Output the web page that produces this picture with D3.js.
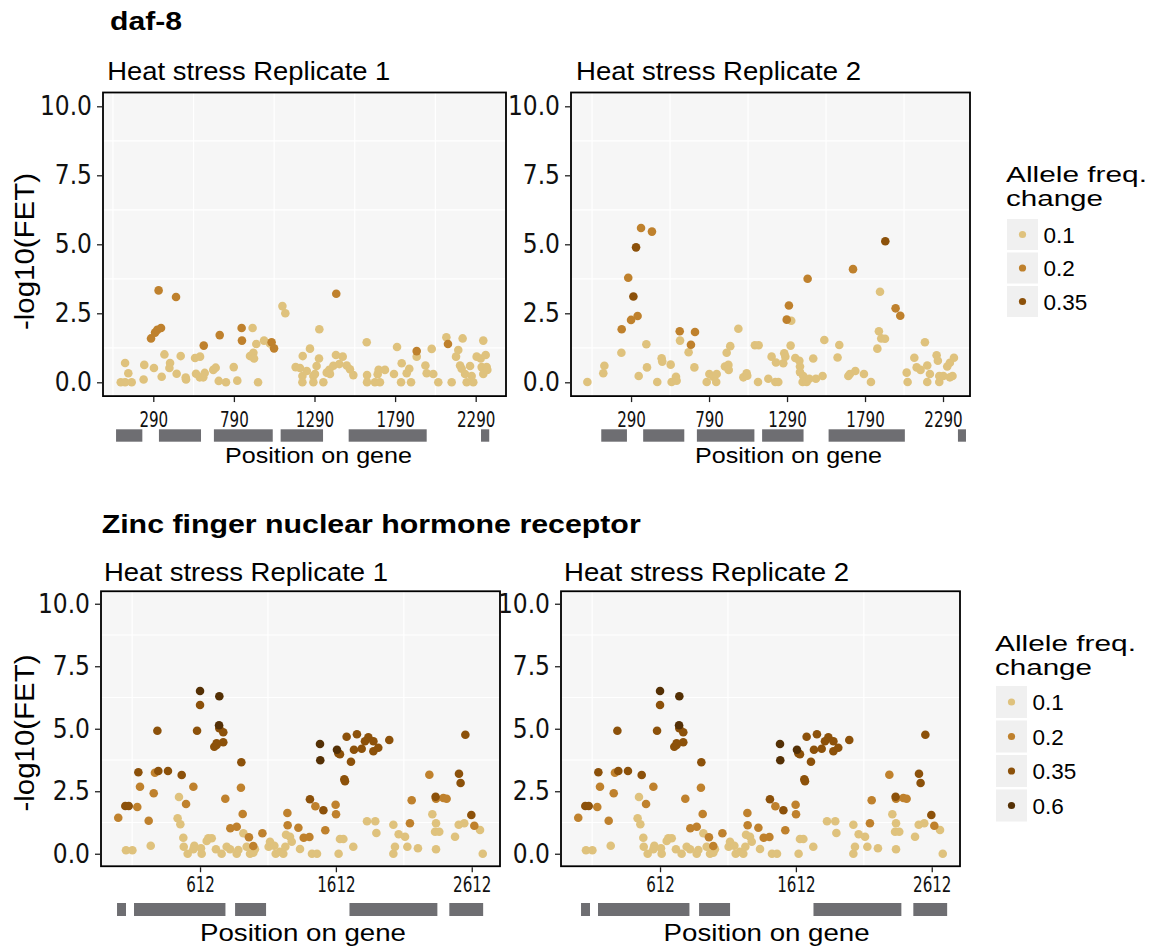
<!DOCTYPE html>
<html>
<head>
<meta charset="utf-8">
<script src="https://cdn.jsdelivr.net/npm/d3@7"></script>
<style>
body{margin:0;background:#fff;}
svg{display:block;font-family:"Liberation Sans",Arial,sans-serif;}
.narrow text,.narrow{font-family:"Liberation Sans Narrow","Arial Narrow","DejaVu Sans Condensed",sans-serif;}
</style>
</head>
<body>
<div class="chart"></div>
<script>
// allele frequency change classes and their colours (BrBG, brown side)
const afcLevels = ["0.1", "0.2", "0.35", "0.6"];
const afcColors = ["#dfc27d", "#bf812d", "#8c510a", "#543005"];

const yTicks = [0, 2.5, 5, 7.5, 10];
const daf8Ticks = [290, 790, 1290, 1790, 2290];
const zincTicks = [612, 1612, 2612];

// exon blocks drawn under each panel
const daf8Exons = [[59,222],[325,586],[666,1031],[1080,1343],[1502,1986],[2323,2374]];
const zincExons = [[1,67],[126,799],[870,1098],[1712,2359],[2447,2696]];

// [position, -log10(FET)]
const daf8Rep1Low = [[1091,2.76],[1109,2.50],[906,1.97],[929,1.39],[977,1.51],[1014,1.41],[1320,1.92],[1614,1.45],[1802,1.28],[2108,1.63],[2209,1.59],[2337,1.51],
  [115,0.70],[135,0.33],[88,0.00],[115,0.00],[156,0.00],[230,0.10],[234,0.63],[294,0.52],[342,0.20],[359,1.01],[394,0.70],[390,0.52],[435,0.31],[460,0.95],
  [491,0.17],[493,0.10],[549,0.88],[580,0.93],[555,0.31],[578,0.18],[600,0.18],[609,0.34],[662,0.45],[677,0.53],[696,0.05],[741,0.00],[789,0.55],[811,0.06],
  [890,0.95],[911,1.07],[915,0.86],[940,0.00],[1173,0.55],[1200,0.52],[1217,0.95],[1215,0.23],[1215,0.00],[1242,0.41],[1262,1.22],[1283,0.23],[1283,0.00],
  [1293,0.30],[1303,0.59],[1318,0.86],[1345,0.00],[1366,0.35],[1382,0.45],[1386,0.30],[1407,0.60],[1423,0.99],[1444,0.66],[1465,0.93],[1490,0.61],[1510,0.47],
  [1531,0.26],[1616,0.26],[1616,0.00],[1665,0.00],[1682,0.29],[1688,0.45],[1696,0.00],[1727,0.45],[1783,0.30],[1827,0.00],[1831,0.69],[1862,0.33],[1878,0.49],
  [1889,0.00],[1924,0.93],[1978,0.61],[1986,0.33],[2017,1.21],[2027,0.30],[2058,0.00],[2141,0.00],[2168,0.93],[2182,1.17],[2193,0.61],[2203,0.49],[2224,0.30],
  [2234,0.00],[2255,0.59],[2265,0.23],[2275,0.00],[2296,0.93],[2321,0.86],[2327,0.55],[2337,0.30],[2352,0.99],[2358,0.55],[2362,0.45]];
const daf8Rep1Mid = [[323,3.33],[431,3.09],[276,1.59],[301,1.80],[315,1.90],[338,1.97],[603,1.33],[702,1.71],[838,1.97],[840,1.51],[1425,3.21],[1024,1.45],
  [1039,1.23],[1924,1.13],[2118,1.39]];

const daf8Rep2Low = [[10,0.01],[112,0.33],[119,0.60],[228,1.07],[339,0.23],[388,1.38],[392,0.54],[458,0.01],[486,0.87],[490,0.75],[544,0.64],[550,0.01],
  [578,0.20],[582,0.06],[604,1.51],[659,1.09],[696,0.54],[775,0.01],[792,0.30],[817,0.20],[836,0.01],[839,0.30],[892,0.57],[903,1.07],[914,0.63],[916,0.45],
  [926,1.31],[978,1.94],[1010,0.18],[1031,0.33],[1035,0.24],[1084,1.34],[1108,1.34],[1104,0.01],[1170,0.13],[1191,0.93],[1215,0.01],[1219,0.72],[1234,0.01],
  [1266,0.69],[1272,1.05],[1279,0.93],[1317,2.23],[1313,1.33],[1343,0.88],[1369,0.78],[1373,0.57],[1373,0.37],[1390,0.01],[1394,0.23],[1416,0.01],[1433,0.13],
  [1458,0.86],[1475,0.13],[1518,0.23],[1529,1.53],[1625,1.35],[1614,0.90],[1683,0.23],[1693,0.30],[1728,0.41],[1783,0.30],[1828,0.01],[1869,1.22],[1879,1.85],
  [1886,3.28],[1894,1.59],[1918,1.58],[2057,0.35],[2063,0.01],[2106,0.89],[2121,0.54],[2146,0.45],[2174,1.45],[2189,0.61],[2189,0.01],[2206,0.30],[2249,0.98],
  [2257,0.78],[2266,0.01],[2266,0.23],[2292,0.23],[2317,0.57],[2334,0.71],[2351,0.23],[2360,0.89],[2334,0.18]];
const daf8Rep2Mid = [[354,5.59],[424,5.46],[272,3.79],[290,2.26],[332,2.40],[230,1.92],[602,1.85],[700,1.82],[674,1.36],[1422,3.75],[1302,2.78],[1288,2.27],
  [1713,4.10],[1986,2.68],[2016,2.41]];
const daf8Rep2High = [[322,4.89],[305,3.11],[1920,5.11]];

// both zinc finger replicates show the same points
const zincLow = [[67,0.14],[114,0.14],[249,0.32],[457,2.27],[447,1.42],[467,1.18],[489,0.64],[492,0.28],[521,0.00],[570,0.32],[563,0.18],[624,0.00],[619,0.22],
  [673,0.62],[698,0.62],[661,0.51],[729,0.18],[771,0.00],[808,0.28],[833,0.18],[882,0.00],[894,0.15],[931,0.82],[955,0.28],[980,0.00],[1016,0.18],[1004,0.04],
  [1117,0.28],[1127,0.48],[1159,0.32],[1169,0.00],[1200,0.08],[1225,0.00],[1240,0.28],[1245,0.76],[1274,0.68],[1287,0.48],[1348,0.19],[1436,0.00],[1473,0.00],
  [1632,0.00],[1642,0.59],[1667,0.59],[1740,0.28],[1841,1.30],[1902,1.30],[1910,0.83],[2035,1.16],[2047,0.28],[2035,0.00],[2074,0.78],[2121,0.68],[2138,0.28],
  [2216,0.22],[2322,1.58],[2349,1.22],[2342,0.88],[2373,0.88],[2349,0.18],[2489,0.68],[2516,1.16],[2557,1.22],[2673,0.95],[2693,0.00]];
const zincMid = [[10,1.44],[150,1.87],[234,1.32],[170,2.68],[271,2.42],[280,3.24],[563,2.68],[509,1.99],[798,2.20],[913,2.64],[926,1.59],[835,1.02],[882,1.08],
  [972,0.66],[1004,0.31],[1071,0.82],[1255,1.63],[1257,1.14],[1336,1.04],[1375,0.64],[1417,0.67],[1461,1.90],[1610,1.96],[1613,1.58],[1534,0.94],[2300,3.16],
  [2170,2.14],[2157,1.22],[2349,2.20],[2403,2.23],[2427,2.20],[2631,1.12]];
const zincHigh = [[612,5.95],[590,4.92],[298,4.92],[717,4.28],[734,4.42],[754,5.02],[783,4.86],[783,4.46],[916,3.66],[158,3.26],[305,3.31],[376,3.31],[477,3.15],
  [62,1.91],[87,1.91],[2565,4.76],[2518,3.20],[2530,2.83],[1691,4.68],[1767,4.78],[1851,4.66],[1826,4.50],[1888,4.50],[1888,4.10],[1924,4.24],[1745,4.16],
  [1802,4.20],[2005,4.55],[1630,4.02],[1642,3.98],[1723,3.68],[1674,2.98],[1679,2.90],[1421,2.18],[1520,1.74],[2346,2.28],[2609,1.55],[734,4.35]];
const zincTop = [[612,6.51],[754,6.30],[752,5.14],[1495,4.39],[1497,3.74],[1620,4.16]];

const color = d3.scaleOrdinal().domain(afcLevels).range(afcColors);

const svg = d3.select('.chart').append('svg')
    .attr('width', 1154)
    .attr('height', 951);

function label(txt, x, y, size, len, weight) {
    const t = svg.append('text')
        .attr('x', x).attr('y', y)
        .attr('font-size', size)
        .attr('fill', '#000')
        .text(txt);
    if (len) t.attr('textLength', len).attr('lengthAdjust', 'spacingAndGlyphs');
    if (weight) t.attr('font-weight', weight);
    return t;
}

function drawPanel(p) {
    const x = d3.scaleLinear().domain(p.xDomain).range([p.left, p.right]);
    const y = d3.scaleLinear().domain([-0.5, 10.5]).range([p.bottom, p.top]);
    const step = p.ticks[1] - p.ticks[0];
    const g = svg.append('g');

    g.append('rect')
        .attr('x', p.left).attr('y', p.top)
        .attr('width', p.right - p.left).attr('height', p.bottom - p.top)
        .attr('fill', '#f6f6f6');

    // only the in-between grid lines show in the original
    g.selectAll('.gx')
        .data(p.ticks.map(t => t - step / 2).filter(v => v > p.xDomain[0]))
        .enter().append('line')
        .attr('x1', d => x(d)).attr('x2', d => x(d))
        .attr('y1', p.top).attr('y2', p.bottom)
        .attr('stroke', '#fff').attr('stroke-width', 1.2);
    g.selectAll('.gy')
        .data(yTicks.map(t => t - 1.25).filter(v => v > 0))
        .enter().append('line')
        .attr('y1', d => y(d)).attr('y2', d => y(d))
        .attr('x1', p.left).attr('x2', p.right)
        .attr('stroke', '#fff').attr('stroke-width', 1.2);

    p.series.forEach(s => {
        g.selectAll(null)
            .data(s.pts)
            .enter().append('circle')
            .attr('cx', d => x(d[0]))
            .attr('cy', d => y(d[1]))
            .attr('r', 4.3)
            .attr('fill', color(s.level));
    });

    g.append('rect')
        .attr('x', p.left).attr('y', p.top)
        .attr('width', p.right - p.left).attr('height', p.bottom - p.top)
        .attr('fill', 'none').attr('stroke', '#000').attr('stroke-width', 1.8);

    const yAxis = g.append('g')
        .attr('class', 'narrow')
        .attr('transform', `translate(${p.left - 1},0)`)
        .call(d3.axisLeft(y).tickValues(yTicks).tickFormat(d3.format('.1f')).tickSize(5).tickPadding(5));
    yAxis.select('.domain').remove();
    yAxis.selectAll('line').attr('stroke', '#222').attr('stroke-width', 1.3);
    yAxis.selectAll('text').attr('font-size', 26).attr('fill', '#111');

    const xAxis = g.append('g')
        .attr('class', 'narrow')
        .attr('transform', `translate(0,${p.bottom + 1})`)
        .call(d3.axisBottom(x).tickValues(p.ticks).tickFormat(d3.format('d')).tickSize(5).tickPadding(p.tickPad));
    xAxis.select('.domain').remove();
    xAxis.selectAll('line').attr('stroke', '#222').attr('stroke-width', 1.3);
    xAxis.selectAll('text')
        .attr('font-size', p.tickFont)
        .attr('fill', '#111')
        .attr('transform', 'scale(0.8,1)');

    // gene structure track
    const tx = d3.scaleLinear().domain(p.xDomain)
        .range([p.left + p.trackShift, p.right + p.trackShift + p.trackExtra]);
    g.selectAll('.exon')
        .data(p.exons)
        .enter().append('rect')
        .attr('x', d => tx(d[0]))
        .attr('width', d => tx(d[1]) - tx(d[0]))
        .attr('y', p.trackY)
        .attr('height', p.trackH)
        .attr('fill', '#6e6e72');

    label(p.title, p.titleX, p.titleY, 25, p.titleLen);
    label('Position on gene', p.posX, p.posY, p.posFont, p.posLen);
}

function drawLegend(lg) {
    const levels = afcLevels.slice(0, lg.count);
    label('Allele freq.', lg.x - 1, lg.titleY, 21.5, 141);
    label('change', lg.x - 1, lg.titleY + 24, 21.5, 97);
    const g = svg.append('g');
    const keys = g.selectAll('.key')
        .data(levels)
        .enter().append('g')
        .attr('transform', (d, i) => `translate(${lg.x},${lg.keyY + i * lg.step})`);
    keys.append('rect')
        .attr('width', 31).attr('height', lg.keyH)
        .attr('fill', '#f0f0f0');
    keys.append('circle')
        .attr('cx', 15.5).attr('cy', lg.keyH / 2)
        .attr('r', 3.6)
        .attr('fill', d => color(d));
    keys.append('text')
        .attr('x', 36.5).attr('y', lg.keyH / 2 + 8.3)
        .attr('font-size', 22.5)
        .text(d => d);
}

const topRow = {top: 92.5, bottom: 396.1, tickPad: 10, tickFont: 21, trackY: 429.3, trackH: 12.4, titleY: 80, posY: 463.3, posFont: 22, posLen: 187};
const botRow = {top: 591.25, bottom: 866.25, tickPad: 5, tickFont: 21, trackY: 903, trackH: 13, titleY: 581, posY: 941, posFont: 24, posLen: 206};

drawPanel(Object.assign({}, topRow, {
    left: 103, right: 506, xDomain: [-22, 2478], ticks: daf8Ticks, exons: daf8Exons, trackShift: 0, trackExtra: 0,
    title: 'Heat stress Replicate 1', titleX: 107.3, titleLen: 283, posX: 225,
    series: [{level: '0.1', pts: daf8Rep1Low}, {level: '0.2', pts: daf8Rep1Mid}]
}));
drawPanel(Object.assign({}, topRow, {
    left: 571, right: 970, xDomain: [-95, 2463], ticks: daf8Ticks, exons: daf8Exons,
    // gene track keeps the first panel's scale
    trackShift: 6, trackExtra: 4,
    title: 'Heat stress Replicate 2', titleX: 576, titleLen: 285, posX: 695,
    series: [{level: '0.1', pts: daf8Rep2Low}, {level: '0.2', pts: daf8Rep2Mid}, {level: '0.35', pts: daf8Rep2High}]
}));
const zincSeries = [{level: '0.1', pts: zincLow}, {level: '0.2', pts: zincMid}, {level: '0.35', pts: zincHigh}, {level: '0.6', pts: zincTop}];
drawPanel(Object.assign({}, botRow, {
    left: 101, right: 500, xDomain: [-117, 2820], ticks: zincTicks, exons: zincExons, trackShift: 0, trackExtra: 0,
    title: 'Heat stress Replicate 1', titleX: 104, titleLen: 284, posX: 200,
    series: zincSeries
}));
drawPanel(Object.assign({}, botRow, {
    left: 561, right: 960, xDomain: [-117, 2820], ticks: zincTicks, exons: zincExons, trackShift: 4, trackExtra: 0,
    title: 'Heat stress Replicate 2', titleX: 564, titleLen: 285, posX: 663.6,
    series: zincSeries
}));

label('daf-8', 110, 30, 26, 72, 'bold');
label('Zinc finger nuclear hormone receptor', 101.7, 533, 26, 539, 'bold');

[251.5, 733].forEach(cy => {
    svg.append('text')
        .attr('transform', `translate(33.5,${cy}) rotate(-90)`)
        .attr('text-anchor', 'middle')
        .attr('font-size', 27)
        .attr('textLength', 157).attr('lengthAdjust', 'spacingAndGlyphs')
        .text('-log10(FET)');
});

drawLegend({x: 1007, titleY: 182, keyY: 219, keyH: 31, step: 33.5, count: 3});
drawLegend({x: 996, titleY: 650.5, keyY: 686, keyH: 32, step: 34.5, count: 4});
</script>
</body>
</html>
